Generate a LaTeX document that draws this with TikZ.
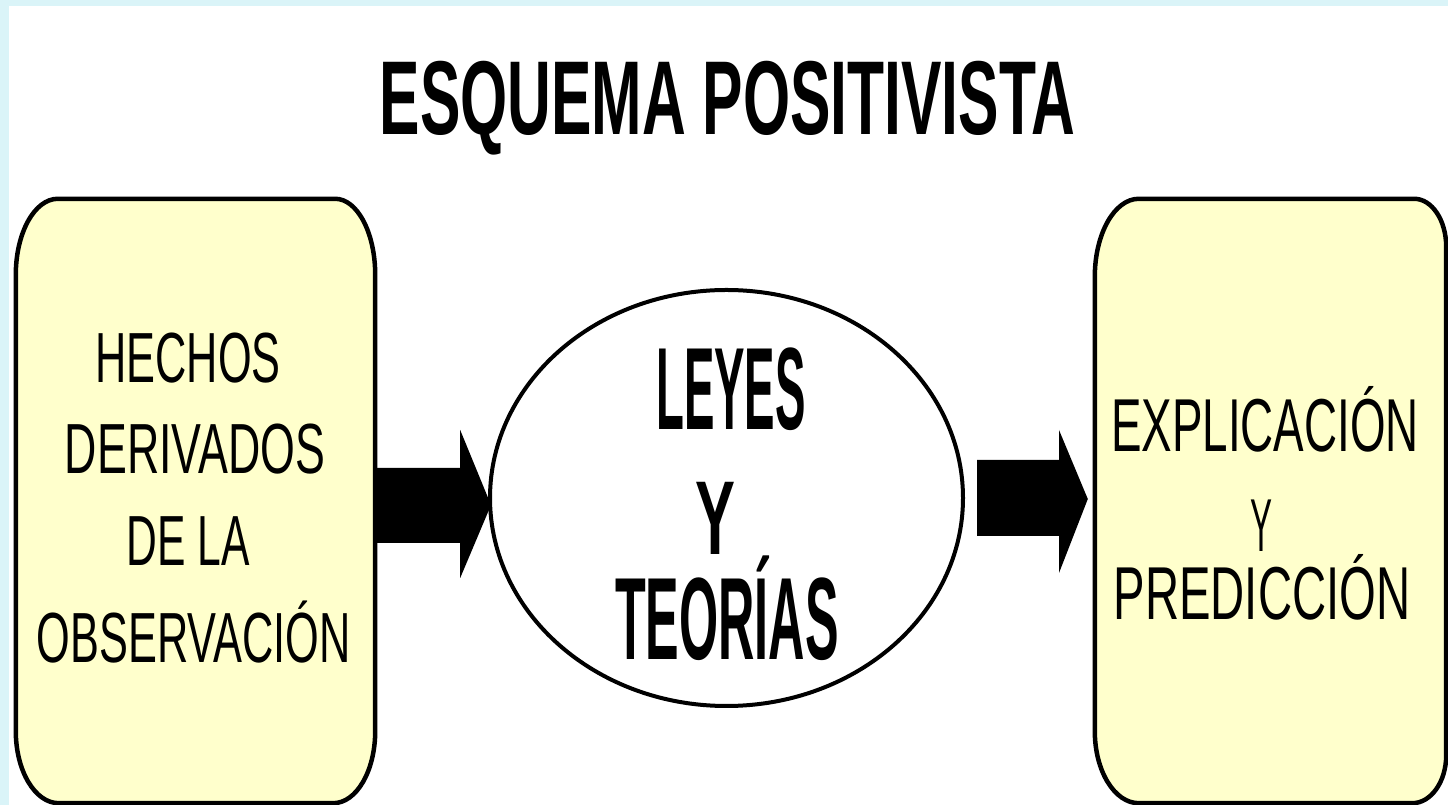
\documentclass[tikz,border=0pt]{standalone}
\usepackage{fontspec}
\setmainfont{Liberation Sans}
\usetikzlibrary{calc,shapes.geometric}
\definecolor{bgcyan}{HTML}{DAF4F8}
\definecolor{boxyellow}{HTML}{FFFFCC}
\newcommand\narrowtxt[2]{\scalebox{#1}[1]{#2}}
\begin{document}
\begin{tikzpicture}[x=1pt,y=1pt,
  boxframe/.style={draw=none,fill=none,rectangle,inner sep=0pt},
  boxline/.style={draw=black,line width=4.5pt,fill=boxyellow},
  ovalline/.style={draw=black,line width=4pt,fill=white,ellipse,inner sep=0pt},
  blockarrow/.style={fill=black},
  plaintext/.style={anchor=base,inner sep=0pt,font=\fontsize{71}{71}\selectfont},
  righttext/.style={anchor=base,inner sep=0pt,font=\fontsize{75}{75}\selectfont},
  boldtext/.style={anchor=base,inner sep=0pt,font=\bfseries\fontsize{117}{117}\selectfont},
  titletext/.style={anchor=base,inner sep=0pt,font=\bfseries\fontsize{105}{105}\selectfont}]
\useasboundingbox (0,0) rectangle (1448,805);
\fill[bgcyan] (0,0) rectangle (1448,805);
\fill[white] (9,0) rectangle (1448,799);
\begin{scope}
\clip (0,0) rectangle (1448,805);
% box frames
\node[boxframe,minimum width=359pt,minimum height=604pt] (hbox) at (195.5,304) {};
\node[boxframe,minimum width=351pt,minimum height=604pt] (ebox) at (1270.5,304) {};
% left box outline
\draw[boxline] ([xshift=42pt]hbox.north west) -- ([xshift=-40pt]hbox.north east)
  arc[start angle=90,end angle=0,x radius=40,y radius=76]
  -- ([yshift=72pt]hbox.south east)
  arc[start angle=0,end angle=-90,x radius=42,y radius=72]
  -- ([xshift=43pt]hbox.south west)
  arc[start angle=270,end angle=180,x radius=43,y radius=72]
  -- ([yshift=-76pt]hbox.north west)
  arc[start angle=180,end angle=90,x radius=42,y radius=76] -- cycle;
% right box outline
\draw[boxline] ([xshift=44pt]ebox.north west) -- ([xshift=-32pt]ebox.north east)
  arc[start angle=90,end angle=0,x radius=32,y radius=48]
  -- ([yshift=48pt]ebox.south east)
  arc[start angle=0,end angle=-90,x radius=34,y radius=48]
  -- ([xshift=44pt]ebox.south west)
  arc[start angle=270,end angle=180,x radius=44,y radius=72]
  -- ([yshift=-78pt]ebox.north west)
  arc[start angle=180,end angle=90,x radius=44,y radius=78] -- cycle;
% central oval
\node[ovalline,minimum width=473pt,minimum height=416pt] (oval) at (726.5,307) {};
% block arrows
\fill[blockarrow] ($(hbox.east)+(0,33)$) -- ($(hbox.east)+(85,33)$) -- ($(hbox.east)+(85,71)$)
  -- ($(oval.west)+(3,-7)$) -- ($(hbox.east)+(85,-77)$) -- ($(hbox.east)+(85,-42)$)
  -- ($(hbox.east)+(0,-42)$) -- cycle;
\fill[blockarrow] ($(oval.east)+(12,38)$) -- ($(oval.east)+(94,38)$) -- ($(oval.east)+(94,68)$)
  -- ($(ebox.west)+(-7,2)$) -- ($(oval.east)+(94,-75)$) -- ($(oval.east)+(94,-38)$)
  -- ($(oval.east)+(12,-38)$) -- cycle;
\end{scope}
% title
\node[titletext] (title) at (727.5,670) {\narrowtxt{0.577}{ESQUEMA POSITIVISTA}};
% left box text
\node[plaintext] (h1) at (188,422) {\narrowtxt{0.61}{HECHOS}};
\node[plaintext] (h2) at (195,331) {\narrowtxt{0.63}{DERIVADOS}};
\node[plaintext] (h3) at (188.5,239) {\narrowtxt{0.6}{DE LA}};
\node[plaintext] (h4) at (193.5,142) {\narrowtxt{0.61}{OBSERVACIÓN}};
% oval text
\node[boldtext] (l1) at (731,375) {\narrowtxt{0.39}{LEYES}};
\node[boldtext,font=\bfseries\fontsize{105}{105}\selectfont] (l2) at (715,250) {\narrowtxt{0.57}{Y}};
\node[boldtext] (l3) at (727,145) {\narrowtxt{0.43}{TEORÍAS}};
% right box text
\node[righttext] (e1) at (1265,353) {\narrowtxt{0.61}{EXPLICACIÓN}};
\node[righttext] (e2) at (1261,253) {\narrowtxt{0.44}{Y}};
\node[righttext] (e3) at (1262,185) {\narrowtxt{0.63}{PREDICCIÓN}};
\end{tikzpicture}
\end{document}
